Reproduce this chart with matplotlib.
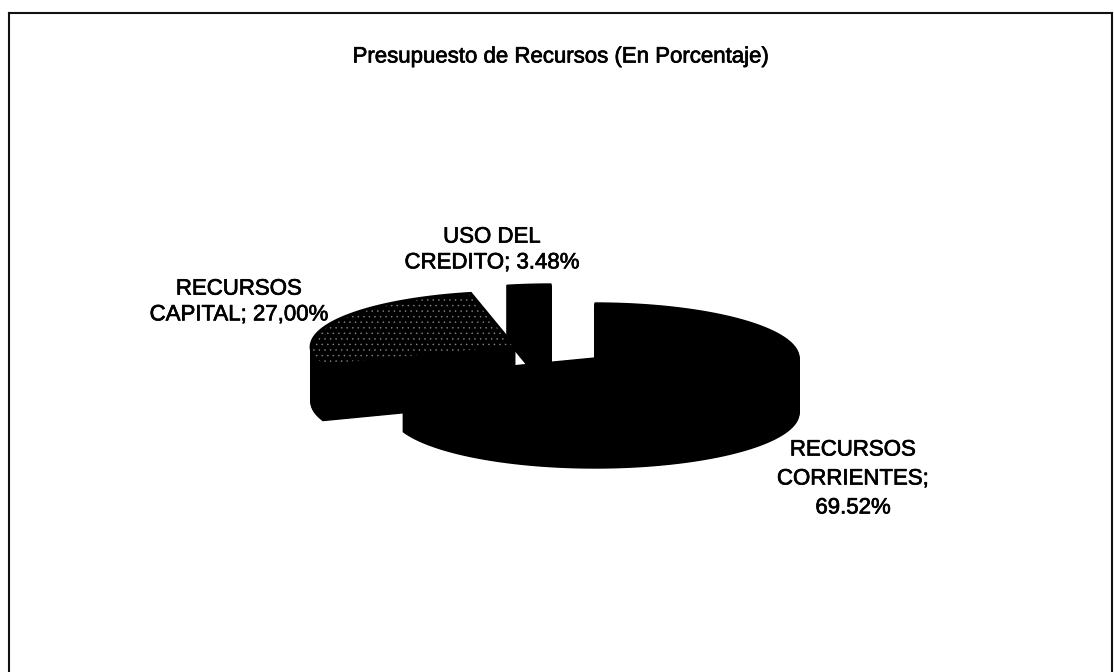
import numpy as np
import matplotlib.pyplot as plt
from matplotlib.patches import Polygon
import matplotlib.patheffects as pe

plt.rcParams['font.family'] = ['Liberation Sans', 'DejaVu Sans']
plt.rcParams['hatch.linewidth'] = 0.3

# Datos
titulo = "Presupuesto de Recursos (En Porcentaje)"
categorias = ["RECURSOS\nCORRIENTES;\n69.52%", "RECURSOS\nCAPITAL; 27,00%", "USO DEL\nCREDITO; 3.48%"]
valores = [69.52, 27.00, 3.48]

# Centro de cada porcion (explotada), en pixeles
centros = [(595, 358), (515, 347), (551, 339)]
pos_etiquetas = [(853, 479), (239, 302), (492, 250)]
espaciado = [1.5, 1.3, 1.3]

rx, ry, prof = 204, 55, 55
trazo = [pe.withStroke(linewidth=0.5, foreground="black")]


def porcion(centro, ini, fin):
    # angulos en sentido horario desde las 12
    t = np.radians(np.linspace(ini, fin, 120))
    x = centro[0] + rx*np.sin(t)
    y = centro[1] - ry*np.cos(t)
    return np.r_[centro[0], x], np.r_[centro[1], y]


fig = plt.figure(figsize=(11.14, 6.72), dpi=100)
ax = fig.add_axes([0, 0, 1, 1])
ax.set_xlim(0, 1114)
ax.set_ylim(672, 0)
ax.axis("off")

# Marco
ax.plot([9, 9], [672, 13], color="#111111", lw=1.5)
ax.plot([9, 1112], [13, 13], color="#111111", lw=1.5)
ax.plot([1112, 1112], [13, 672], color="#111111", lw=1.5)

ax.text(561, 57, titulo, ha="center", va="center", fontsize=16, path_effects=trazo)

# Orden de dibujo: capital, credito, corrientes
acum = np.r_[0, np.cumsum(valores)] / sum(valores) * 360
for i in [1, 2, 0]:
    x, y = porcion(centros[i], acum[i], acum[i+1])
    for d in np.arange(prof, 0, -1):
        ax.add_patch(Polygon(np.c_[x, y+d], closed=True, fc="black", ec="black", lw=1))
    if i == 1:
        # tapa punteada de RECURSOS CAPITAL
        ax.add_patch(Polygon(np.c_[x, y], closed=True, fc="black", ec="#8c8c8c", lw=0,
                             hatch="...", zorder=2.1))
        ax.add_patch(Polygon(np.c_[x, y], closed=True, fill=False, ec="black", lw=2, zorder=2.15))
    else:
        ax.add_patch(Polygon(np.c_[x, y], closed=True, fc="black", ec="black", lw=1, zorder=2.2))

for cat, pos, esp in zip(categorias, pos_etiquetas, espaciado):
    ax.text(pos[0], pos[1], cat, ha="center", va="center", fontsize=16,
            linespacing=esp, zorder=5, path_effects=trazo)

fig.savefig("out.png", dpi=100)
